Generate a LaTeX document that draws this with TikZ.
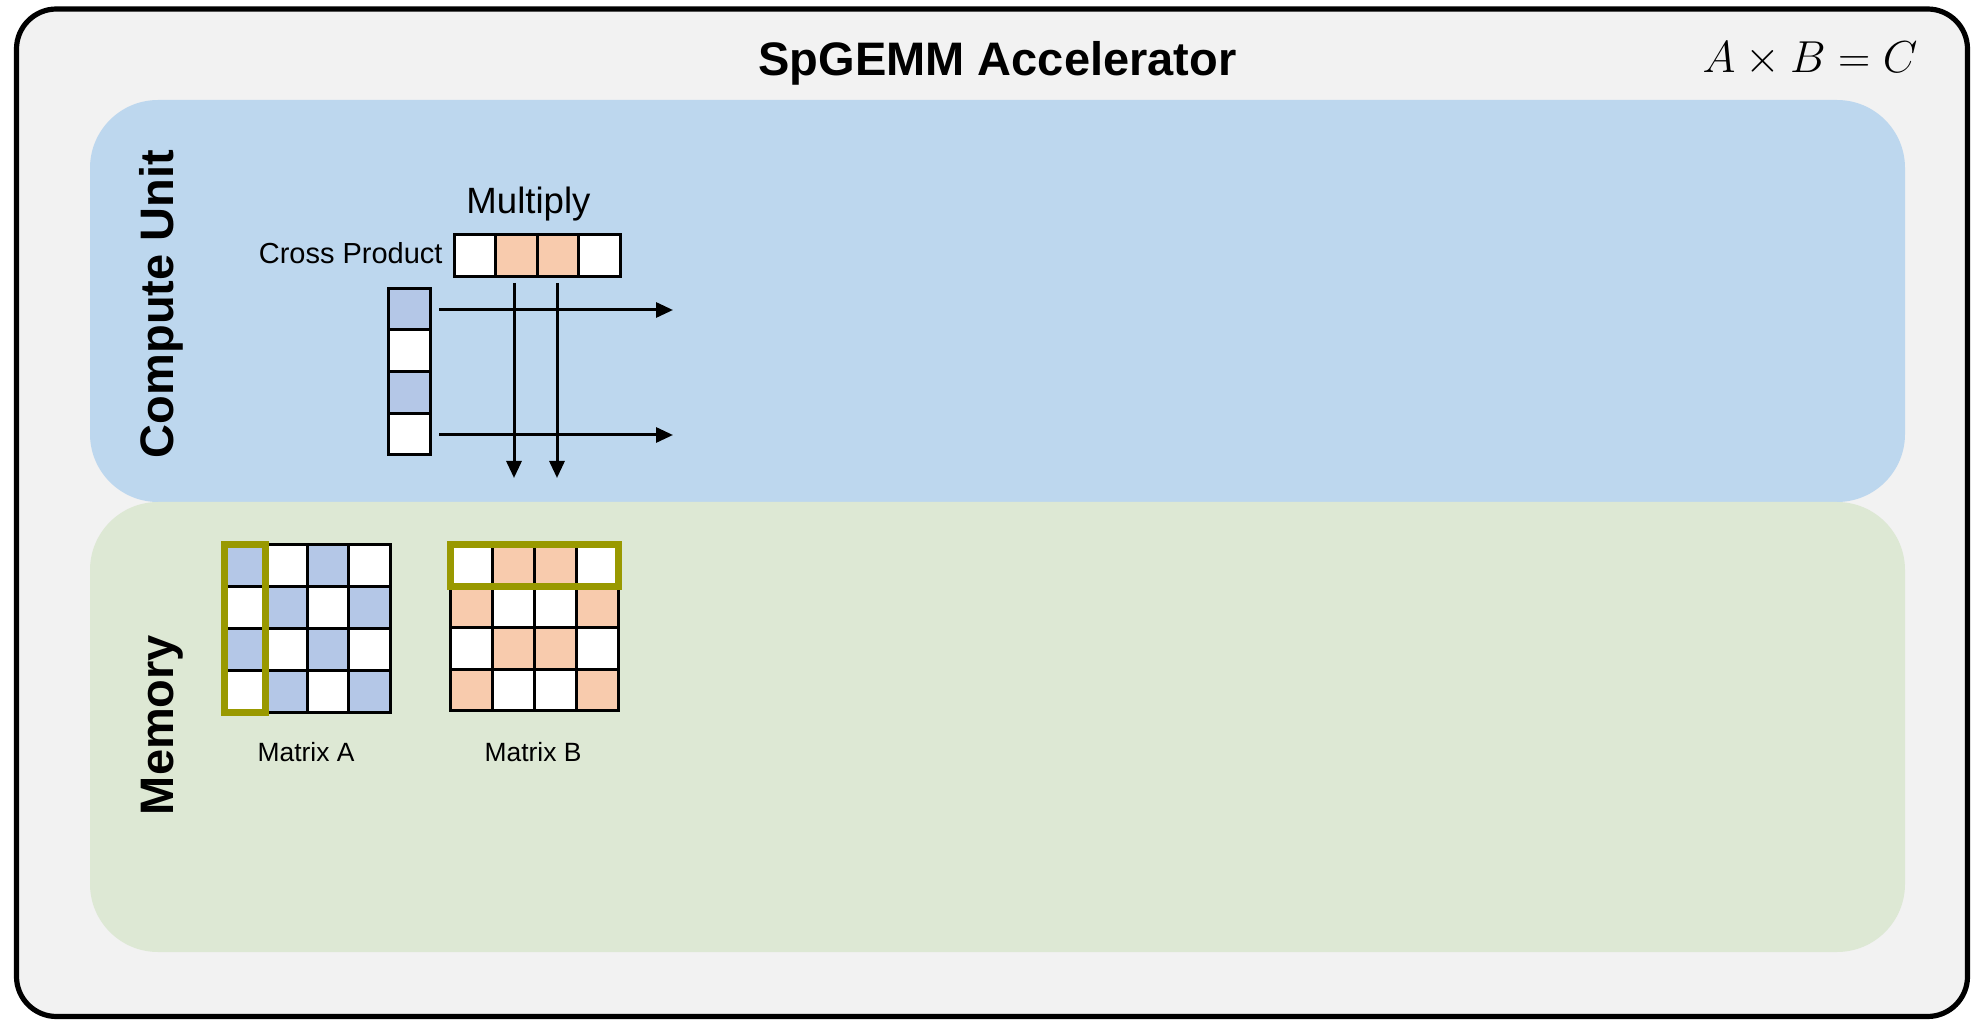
\documentclass[tikz,border=0pt]{standalone}
\usepackage{graphicx}
\usepackage{fontspec}
\setmainfont{Liberation Sans}
\usetikzlibrary{arrows.meta}

\definecolor{panelbg}{HTML}{F2F2F2}
\definecolor{computebg}{HTML}{BDD7EE}
\definecolor{memorybg}{HTML}{DDE8D4}
\definecolor{cellblue}{HTML}{B4C7E7}
\definecolor{cellorange}{HTML}{F8CBAD}
\definecolor{selolive}{HTML}{999900}

\tikzset{
  cell/.style={draw=black, line width=1.5pt, minimum width=20.85pt,
    minimum height=20.85pt, inner sep=0pt, outer sep=0pt},
  selbox/.style={draw=selolive, line width=3.5pt},
  conn/.style={line width=1.5pt, -{Triangle[length=8.5pt,width=7.5pt]}},
  region/.style={rounded corners=34pt},
  bigbold/.style={font=\bfseries\fontsize{23.5}{28}\selectfont},
}

\begin{document}
\begin{tikzpicture}[x=0.5pt,y=-0.5pt]
  \useasboundingbox (0,0) rectangle (1972,1021);

  % accelerator frame and its two regions
  \draw[line width=2.6pt, fill=panelbg, rounded corners=20pt]
    (16.5,9) rectangle (1967.5,1016.5);
  \fill[computebg, region] (90,100) rectangle (1905,502);
  \fill[memorybg, region] (90,502) rectangle (1905,952);

  % headings
  \node[anchor=base, bigbold] (title) at (997.5,76) {SpGEMM Accelerator};
  \node[anchor=base, font=\Huge] (eq) at (1810,72.5) {\scalebox{0.9}{$A\times B=C$}};
  \node[bigbold, anchor=base, rotate=90] (cu) at (173,304) {Compute Unit};
  \node[bigbold, anchor=base, rotate=90] (mem) at (173,725) {Memory};

  % compute unit: row of B and column of A
  \node[anchor=base, font=\fontsize{18.3}{22}\selectfont] (mul) at (528.5,213.3) {Multiply};
  \node[anchor=base east, inner sep=0pt, font=\fontsize{14.5}{17}\selectfont] (cp) at (443,263.3) {Cross Product};

  \foreach \c/\col in {1/white,2/cellorange,3/cellorange,4/white}
    \node[cell, fill=\col] (m-\c) at ({475+41.6*(\c-1)},255.5) {};
  \foreach \r/\col in {1/cellblue,2/white,3/cellblue,4/white}
    \node[cell, fill=\col] (v-\r) at (409.5,{309+41.7*(\r-1)}) {};

  \coordinate (h1) at (673,310);
  \coordinate (h2) at (673,435);
  \coordinate (d1) at (514,478);
  \coordinate (d2) at (557,478);
  \draw[conn] ([xshift=4.5pt]v-1.east |- h1) -- (h1);
  \draw[conn] ([xshift=4.5pt]v-4.east |- h2) -- (h2);
  \draw[conn] ([yshift=-3.25pt]m-2.south -| d1) -- (d1);
  \draw[conn] ([yshift=-3.25pt]m-3.south -| d2) -- (d2);

  % memory: matrix A (checkerboard) and matrix B
  \foreach \r in {1,...,4} {
    \foreach \c in {1,...,4} {
      \pgfmathtruncatemacro\parity{mod(\r+\c,2)}
      \ifnum\parity=0 \def\fillc{cellblue}\else\def\fillc{white}\fi
      \node[cell, fill=\fillc] (a-\r-\c) at ({244.85+41.5*(\c-1)},{565.85+41.8*(\r-1)}) {};
    }
  }
  \foreach \r in {1,...,4} {
    \foreach \c in {1,...,4} {
      \pgfmathtruncatemacro\inner{(\c==2 || \c==3) ? 1 : 0}
      \pgfmathtruncatemacro\odd{mod(\r,2)}
      \ifnum\inner=\odd \def\fillc{cellorange}\else\def\fillc{white}\fi
      \node[cell, fill=\fillc] (b-\r-\c) at ({471.5+41.9*(\c-1)},{565.3+41.6*(\r-1)}) {};
    }
  }
  \draw[selbox] (a-1-1.north west) rectangle (a-4-1.south east);
  \draw[selbox] (b-1-1.north west) rectangle (b-1-4.south east);

  \node[anchor=base, font=\fontsize{13.2}{16}\selectfont] (la) at (306,761.7) {Matrix A};
  \node[anchor=base, font=\fontsize{13.2}{16}\selectfont] (lb) at (533,761.7) {Matrix B};
\end{tikzpicture}
\end{document}
